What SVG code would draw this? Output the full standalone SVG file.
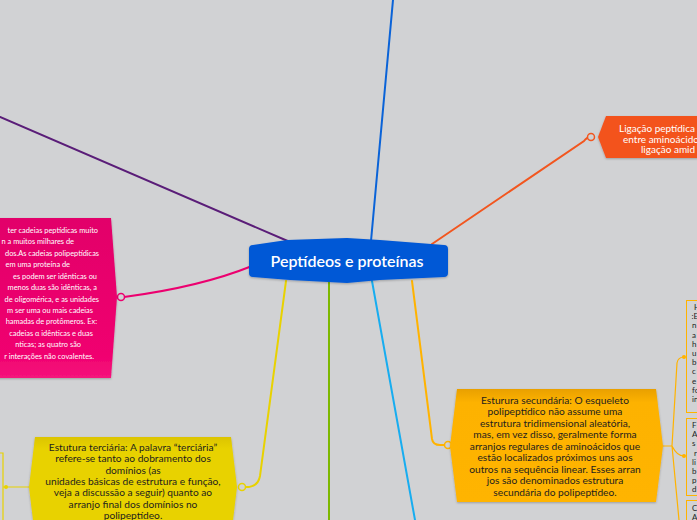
<svg xmlns="http://www.w3.org/2000/svg" width="697" height="520" viewBox="0 0 697 520">
<defs>
<linearGradient id="gOr" x1="0" y1="0" x2="0" y2="1">
<stop offset="0" stop-color="#e9a000"/><stop offset="0.12" stop-color="#fdb200"/><stop offset="1" stop-color="#ffb400"/>
</linearGradient>
<linearGradient id="gYe" x1="0" y1="0" x2="0" y2="1">
<stop offset="0" stop-color="#dcc400"/><stop offset="0.12" stop-color="#e8d200"/><stop offset="1" stop-color="#e8d200"/>
</linearGradient>
<linearGradient id="gPk" x1="0" y1="0" x2="0" y2="1">
<stop offset="0" stop-color="#e2006a"/><stop offset="0.85" stop-color="#f0006f"/><stop offset="1" stop-color="#f5147c"/>
</linearGradient>
<filter id="sh" x="-10%" y="-10%" width="120%" height="130%">
<feDropShadow dx="0" dy="1" stdDeviation="1.2" flood-color="#000" flood-opacity="0.25"/>
</filter>
</defs>
<style>
.ln{fill:none;stroke-width:2;stroke-linecap:round}
.thin{fill:none;stroke-width:1.2}
.ring{fill:#d1d2d4;stroke-width:1.5}
.t10{font-family:Lato,"Open Sans",sans-serif;font-size:10.2px;fill:#1e1e1e;text-anchor:middle}
.tw{font-family:Lato,"Open Sans",sans-serif;font-size:10px;fill:#ffffff}
.tp{font-family:Lato,"Open Sans",sans-serif;font-size:7.4px;fill:#ffffff;text-anchor:end}
.tr{font-family:Lato,"Open Sans",sans-serif;font-size:8px;fill:#1e1e1e}
.box{fill:#d1d2d4;stroke:#ffb300;stroke-width:1}
</style>
<rect width="697" height="520" fill="#d1d2d4"/>

<g id="connectors">
<path class="ln" stroke="#5a1d78" d="M0,117 L290,242"/>
<path class="ln" stroke="#0a63d8" d="M371,241 L393,0"/>
<path class="ln" stroke="#f2561f" d="M432,244 L584,141 Q587,137 591,137"/>
<path class="ln" stroke="#ec006f" d="M124,297 Q200,287 252,266"/>
<path class="ln" stroke="#e8d200" d="M286,281 L260,476 Q258,487 246,487"/>
<path class="ln" stroke="#7db800" d="M329,281 L329,520"/>
<path class="ln" stroke="#17adf0" d="M372,281 L415,520"/>
<path class="ln" stroke="#ffb300" d="M412,281 L432,439 Q433,445 440,445 L445,445"/>
<circle class="ring" stroke="#ec006f" cx="121" cy="297" r="3.5"/>
<circle class="ring" stroke="#f2561f" cx="591" cy="137" r="3.5"/>
<circle class="ring" stroke="#e8d200" cx="242" cy="487" r="3.5"/>
<circle class="ring" stroke="#ffb300" cx="448" cy="445" r="3.5"/>
<path class="thin" stroke="#e8d200" d="M29,487 L3,487 M0,453 L3,453 L3,520"/>
<circle cx="6" cy="487" r="2" fill="#e8d200"/>
<path class="thin" stroke="#ffb300" d="M663,446 L672,446 L677,363 Q678,357 684,357 M672,446 Q677,456 684,456 M672,446 L679,520"/>
<circle cx="684" cy="357" r="2" fill="#ffb300"/>
<circle cx="684" cy="456" r="2" fill="#ffb300"/>
</g>

<g id="center">
<path fill="#0058d6" filter="url(#sh)" d="M253,245 L287,240 L347,238 L380,240 L444,245 Q448,245 448,249 L448,273 Q448,277 444,277 L380,280 L347,283 L290,280 L253,277 Q249,277 249,273 L249,249 Q249,245 253,245 Z"/>
<text x="347" y="266.5" font-family="Lato,'Open Sans',sans-serif" font-size="16" font-weight="600" fill="#ffffff" text-anchor="middle">Peptídeos e proteínas</text>
</g>

<g id="node-pink">
<path fill="url(#gPk)" filter="url(#sh)" d="M-5,218 L111,218 L117,297 L111,378 L-5,378 Z"/>
<text class="tp" x="98" y="233">ter cadeias peptídicas muito</text>
<text class="tp" x="74" y="244.4">n a muitos milhares de</text>
<text class="tp" x="99" y="255.9">dos.As cadeias polipeptídicas</text>
<text class="tp" x="70" y="267.3">em uma proteína de</text>
<text class="tp" x="97" y="278.7">es podem ser idênticas ou</text>
<text class="tp" x="97" y="290.2">menos duas são idênticas, a</text>
<text class="tp" x="99" y="301.6">de oligomérica, e as unidades</text>
<text class="tp" x="93" y="313">m ser uma ou mais cadeias</text>
<text class="tp" x="97" y="324.4">hamadas de protômeros. Ex:</text>
<text class="tp" x="93" y="335.9">cadeias α idênticas e duas</text>
<text class="tp" x="81" y="347.3">nticas; as quatro são</text>
<text class="tp" x="94" y="358.7">r interações não covalentes.</text>
</g>

<g id="node-ligacao">
<path fill="#f3521f" filter="url(#sh)" d="M606,116 L705,116 L705,158 L606,158 L598,137 Z"/>
<text class="tw" x="619" y="131.5">Ligação peptídica</text>
<text class="tw" x="623" y="142.5">entre aminoácidos</text>
<text class="tw" x="641" y="153">ligação amid</text>
</g>

<g id="node-terciaria">
<path fill="url(#gYe)" filter="url(#sh)" d="M35,437 L231,437 L237,487 L231,537 L35,537 L29,487 Z"/>
<text class="t10" x="133" y="451">Estutura terciária: A palavra “terciária”</text>
<text class="t10" x="133" y="462.3">refere-se tanto ao dobramento dos</text>
<text class="t10" x="133" y="473.6">domínios (as</text>
<text class="t10" x="133" y="484.9">unidades básicas de estrutura e função,</text>
<text class="t10" x="133" y="496.2">veja a discussão a seguir) quanto ao</text>
<text class="t10" x="133" y="507.5">arranjo final dos domínios no</text>
<text class="t10" x="133" y="518.8">polipeptídeo.</text>
</g>

<g id="node-secundaria">
<path fill="url(#gOr)" filter="url(#sh)" d="M457,389 L656,389 L663,446 L656,502 L457,502 L450,446 Z"/>
<text class="t10" x="555" y="403.5">Esturura secundária:  O esqueleto</text>
<text class="t10" x="555" y="415">polipeptídico não assume uma</text>
<text class="t10" x="555" y="426.5">estrutura tridimensional aleatória,</text>
<text class="t10" x="555" y="438">mas, em vez disso, geralmente forma</text>
<text class="t10" x="555" y="449.5">arranjos regulares de aminoácidos que</text>
<text class="t10" x="555" y="461">estão localizados próximos uns aos</text>
<text class="t10" x="555" y="472.5">outros na sequência linear. Esses arran</text>
<text class="t10" x="555" y="484">jos são denominados estrutura</text>
<text class="t10" x="555" y="495.5">secundária do polipeptídeo.</text>
</g>

<g id="node-right-1">
<rect class="box" x="686.5" y="300.5" width="20" height="112"/>
<text class="tr" x="694" y="310">H</text>
<text class="tr" x="691.5" y="319.2">:E</text>
<text class="tr" x="692" y="328.4">n</text>
<text class="tr" x="692" y="337.6">a</text>
<text class="tr" x="692" y="346.8">h</text>
<text class="tr" x="692" y="356">u</text>
<text class="tr" x="692" y="365.2">b</text>
<text class="tr" x="692" y="374.4">c</text>
<text class="tr" x="692" y="383.6">e</text>
<text class="tr" x="692" y="392.8">fo</text>
<text class="tr" x="692" y="402">in</text>
</g>
<g id="node-right-2">
<rect class="box" x="686.5" y="418.5" width="20" height="77"/>
<text class="tr" x="692" y="428">F</text>
<text class="tr" x="692" y="437.2">A</text>
<text class="tr" x="692" y="446.4">s</text>
<text class="tr" x="694" y="455.6">r</text>
<text class="tr" x="692" y="464.8">li</text>
<text class="tr" x="692" y="474">b</text>
<text class="tr" x="692" y="483.2">p</text>
<text class="tr" x="692" y="492.4">d</text>
</g>
<g id="node-right-3">
<rect class="box" x="686.5" y="500.5" width="20" height="30"/>
<text class="tr" x="692" y="511">C</text>
<text class="tr" x="692" y="520">A</text>
</g>
</svg>
